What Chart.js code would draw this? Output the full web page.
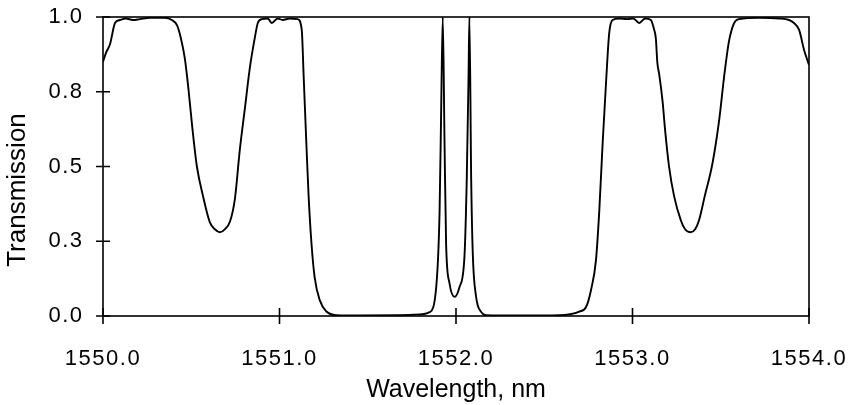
<!DOCTYPE html>
<html>
<head>
<meta charset="utf-8">
<script src="https://cdn.jsdelivr.net/npm/chart.js@4.4.1/dist/chart.umd.min.js"></script>
<style>
  html,body{margin:0;padding:0;background:#fff;}
  #wrap{width:855px;height:405px;}
</style>
</head>
<body>
<div id="wrap"><canvas id="trans" width="855" height="405"></canvas></div>
<script>
// wavelength (nm) and transmission
const wavelengths = [
  1550.000, 1550.017, 1550.040, 1550.068, 1550.096, 1550.130, 1550.170, 1550.209, 1550.266, 1550.351,
  1550.390, 1550.419, 1550.441, 1550.464, 1550.484, 1550.506, 1550.532, 1550.567, 1550.605, 1550.634,
  1550.662, 1550.690, 1550.719, 1550.747, 1550.775, 1550.803, 1550.832, 1550.860, 1550.877, 1550.900,
  1550.934, 1550.956, 1550.990, 1551.018, 1551.058, 1551.103, 1551.126, 1551.137, 1551.152, 1551.165,
  1551.181, 1551.199, 1551.228, 1551.266, 1551.322, 1551.454, 1551.680, 1551.793, 1551.850, 1551.888,
  1551.907, 1551.916, 1551.925, 1551.935, 1551.944, 1551.963, 1551.992, 1552.020, 1552.048, 1552.061,
  1552.071, 1552.076, 1552.086, 1552.095, 1552.114, 1552.143, 1552.171, 1552.359, 1552.586, 1552.699,
  1552.737, 1552.765, 1552.793, 1552.812, 1552.831, 1552.850, 1552.868, 1552.887, 1552.925, 1552.970,
  1553.004, 1553.038, 1553.072, 1553.104, 1553.123, 1553.132, 1553.141, 1553.151, 1553.170, 1553.185,
  1553.207, 1553.236, 1553.274, 1553.298, 1553.330, 1553.355, 1553.377, 1553.409, 1553.453, 1553.491,
  1553.519, 1553.547, 1553.576, 1553.604, 1553.717, 1553.830, 1553.887, 1553.915, 1553.944, 1553.972,
  1553.994, 1554.000
];
const transmission = [
  0.85, 0.88, 0.91, 0.98, 0.99, 0.995, 0.99, 0.993, 0.997, 0.997,
  0.99, 0.973, 0.93, 0.86, 0.76, 0.63, 0.50, 0.40, 0.314, 0.29,
  0.28, 0.29, 0.315, 0.39, 0.555, 0.69, 0.83, 0.93, 0.98, 0.993,
  0.995, 0.98, 0.995, 0.99, 0.995, 0.993, 0.957, 0.80, 0.58, 0.40,
  0.244, 0.13, 0.053, 0.015, 0.003, 0.002, 0.003, 0.005, 0.013, 0.097,
  0.35, 0.69, 1.0, 0.58, 0.24, 0.11, 0.064, 0.097, 0.20, 0.46,
  0.80, 1.0, 0.46, 0.21, 0.064, 0.013, 0.003, 0.002, 0.003, 0.015,
  0.03, 0.087, 0.187, 0.354, 0.58, 0.78, 0.946, 0.99, 0.995, 0.993,
  0.995, 0.98, 0.995, 0.99, 0.957, 0.93, 0.846, 0.81, 0.72, 0.62,
  0.50, 0.40, 0.32, 0.29, 0.28, 0.29, 0.32, 0.40, 0.51, 0.655,
  0.80, 0.92, 0.98, 0.993, 0.997, 0.995, 0.99, 0.98, 0.957, 0.89,
  0.85, 0.84
];
const xTicks = [1550, 1551, 1552, 1553, 1554];
const yTicks = [0, 0.25, 0.5, 0.75, 1.0];
const xTitle = 'Wavelength, nm';
const yTitle = 'Transmission';

const FONT = "'Liberation Sans', Arial, Helvetica, sans-serif";

// closed frame + crossing ticks; tick numbers in the scan are spaced out, titles are not
const frame = {
  id: 'frame',
  beforeDraw(c){ c.ctx.letterSpacing = '0px'; },
  afterDatasetsDraw(c){
    const {ctx, chartArea:a, scales:{x, y}} = c;
    ctx.save();
    ctx.strokeStyle = '#000';
    ctx.lineWidth = 1.6;
    ctx.strokeRect(a.left, a.top, a.right - a.left, a.bottom - a.top);
    ctx.beginPath();
    xTicks.forEach(v => {
      const px = x.getPixelForValue(v);
      ctx.moveTo(px, a.bottom - 8); ctx.lineTo(px, a.bottom + 8);
    });
    yTicks.forEach(v => {
      const py = y.getPixelForValue(v);
      ctx.moveTo(a.left - 7, py); ctx.lineTo(a.left + 7, py);
    });
    ctx.stroke();
    ctx.restore();
    ctx.letterSpacing = '1.5px'; // tick labels are drawn after this (z:1)
  },
  afterDraw(c){
    // y title sits a bit below the middle of the axis in the scan
    const {ctx, chartArea:a} = c;
    ctx.save();
    ctx.letterSpacing = '0px';
    ctx.translate(17.5, a.bottom - 126);
    ctx.rotate(-Math.PI / 2);
    ctx.font = `26px ${FONT}`;
    ctx.fillStyle = '#000';
    ctx.textAlign = 'center';
    ctx.textBaseline = 'middle';
    ctx.fillText(yTitle, 0, 0);
    ctx.restore();
  }
};

// stop the label overflow from shrinking the plot area
const noPad = s => { s.paddingLeft = s.paddingRight = s.paddingTop = s.paddingBottom = 0; };

new Chart(document.getElementById('trans'), {
  type: 'line',
  data: {
    datasets: [{
      data: wavelengths.map((w, i) => ({x: w, y: transmission[i]})),
      borderColor: '#000',
      borderWidth: 1.9,
      pointRadius: 0,
      tension: 0,
      cubicInterpolationMode: 'monotone'
    }]
  },
  options: {
    responsive: false,
    animation: false,
    layout: { padding: { top: 17, right: 46, left: 0, bottom: 0 } },
    plugins: { legend: { display: false }, tooltip: { enabled: false } },
    scales: {
      x: {
        type: 'linear', min: 1550, max: 1554,
        afterBuildTicks: s => { s.ticks = xTicks.map(v => ({value: v})); },
        afterFit: s => { s.height = 89; noPad(s); },
        grid: { display: false, drawTicks: false },
        border: { display: false },
        ticks: {
          z: 1, color: '#000', padding: 30,
          font: { family: FONT, size: 22 },
          callback: v => v.toFixed(1)
        },
        title: {
          display: true, text: xTitle, color: '#000',
          font: { family: FONT, size: 25 }, padding: { top: 0, bottom: 0 }
        }
      },
      y: {
        min: 0, max: 1,
        afterBuildTicks: s => { s.ticks = yTicks.map(v => ({value: v})); },
        afterFit: s => { s.width = 103; noPad(s); },
        grid: { display: false, drawTicks: false },
        border: { display: false },
        ticks: {
          z: 1, color: '#000', padding: 19.5,
          font: { family: FONT, size: 22 },
          callback: v => v.toFixed(1)
        },
        title: { display: false }
      }
    }
  },
  plugins: [frame]
});
</script>
</body>
</html>
